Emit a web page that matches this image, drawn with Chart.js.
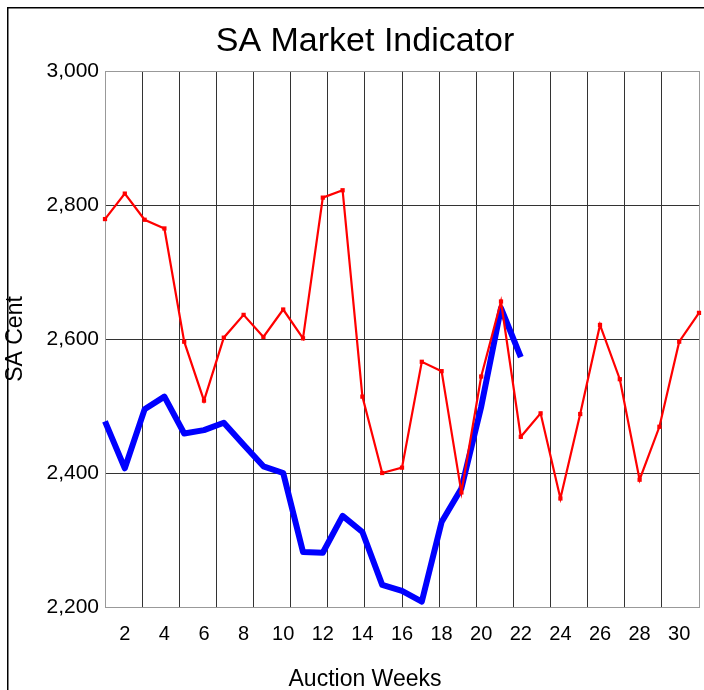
<!DOCTYPE html>
<html><head><meta charset="utf-8">
<script src="https://cdn.jsdelivr.net/npm/chart.js@4"></script>
<style>
html,body{margin:0;padding:0;background:#fff;}
#wrap{position:relative;width:704px;height:690px;overflow:hidden;background:#fff;}
canvas{display:block;}
</style></head><body>
<div id="wrap"><canvas id="c" width="730" height="693" style="width:730px;height:693px"></canvas></div>
<script>
const weeks = ['1','2','3','4','5','6','7','8','9','10','11','12','13','14','15','16','17','18','19','20','21','22','23','24','25','26','27','28','29','30','31'];
const seriesRed = [2779, 2817, 2778, 2765, 2596, 2508, 2602, 2636, 2603, 2644, 2601, 2811, 2822, 2514, 2400, 2408, 2566, 2552, 2371, 2544, 2656, 2454, 2489, 2362, 2488, 2621, 2540, 2390, 2469, 2596, 2639];
const seriesBlue = [2477, 2407, 2495, 2514, 2459, 2464, 2475, 2442, 2410, 2400, 2282, 2281, 2336, 2312, 2233, 2224, 2208, 2327, 2377, 2499, 2646, 2573];
const yTicks = [2200, 2400, 2600, 2800, 3000];
const gridDivisions = [0,1,2,3,4,5,6,7,8,9,10,11,12,13,14,15,16];

const FONT = '"Liberation Sans", Arial, Helvetica, sans-serif';
Chart.defaults.font.family = FONT;
Chart.defaults.color = '#000';

const framePlugin = {
  id: 'frame',
  beforeDraw(chart) {
    const ctx = chart.ctx;
    ctx.save();
    ctx.fillStyle = '#fff';
    ctx.fillRect(0, 0, chart.width, chart.height);
    ctx.fillStyle = '#000';
    ctx.fillRect(7, 7, chart.width, 1.5);
    ctx.fillRect(7, 7, 1.5, chart.height);
    ctx.restore();
  }
};

new Chart(document.getElementById('c'), {
  type: 'line',
  data: {
    labels: weeks,
    datasets: [
      {
        label: 'Red',
        data: seriesRed,
        borderColor: '#ff0000',
        backgroundColor: '#ff0000',
        borderWidth: 2.2,
        pointStyle: 'rect',
        pointRadius: 3,
        pointBorderWidth: 0,
        pointBackgroundColor: '#ff0000',
        tension: 0,
        xAxisID: 'x', yAxisID: 'y'
      },
      {
        label: 'Blue',
        data: seriesBlue,
        borderColor: '#0000ff',
        backgroundColor: '#0000ff',
        borderWidth: 6,
        borderJoinStyle: 'round',
        pointRadius: 0,
        tension: 0,
        xAxisID: 'x', yAxisID: 'y'
      }
    ]
  },
  options: {
    responsive: false,
    animation: false,
    devicePixelRatio: 1,
    layout: { padding: 0 },
    plugins: {
      legend: { display: false },
      tooltip: { enabled: false },
      title: {
        display: true,
        text: 'SA Market Indicator',
        color: '#000',
        font: { family: FONT, size: 34, weight: 'normal' },
        padding: { top: 21, bottom: 9.2 }
      },
      subtitle: {
        display: true,
        position: 'bottom',
        text: 'Auction Weeks',
        color: '#000',
        font: { family: FONT, size: 23, weight: 'normal' },
        padding: { top: 0, bottom: 0 }
      }
    },
    scales: {
      x: {
        type: 'category',
        position: 'bottom',
        offset: false,
        grid: { display: false, drawTicks: false },
        border: { display: true, color: '#999' },
        ticks: {
          autoSkip: false, maxRotation: 0, minRotation: 0,
          padding: 15,
          color: '#000',
          font: { size: 20 },
          callback: function (v, i) { return (i % 2 === 1) ? weeks[i] : ''; }
        },
        afterFit: s => { s.height = 58.4; }
      },
      xg: {
        type: 'linear',
        position: 'top',
        min: gridDivisions[0],
        max: gridDivisions[gridDivisions.length - 1],
        afterBuildTicks: s => { s.ticks = gridDivisions.map(v => ({ value: v })); },
        ticks: { display: false },
        grid: {
          drawTicks: false,
          lineWidth: 1,
          color: c => (c.tick && (c.tick.value === 0 || c.tick.value === 16)) ? '#999' : '#333'
        },
        border: { display: false },
        afterFit: s => { s.height = 0; }
      },
      y: {
        type: 'linear',
        position: 'left',
        min: yTicks[0],
        max: yTicks[yTicks.length - 1],
        afterBuildTicks: s => { s.ticks = yTicks.map(v => ({ value: v })); },
        ticks: {
          padding: 6,
          color: '#000',
          font: { size: 21 },
          callback: v => v.toLocaleString('en-US')
        },
        grid: {
          drawTicks: false,
          lineWidth: 1,
          color: c => (c.tick && c.tick.value === 3000) ? '#999' : '#333'
        },
        border: { display: true, color: '#999' },
        title: {
          display: true,
          text: 'SA Cent',
          color: '#000',
          font: { size: 23 },
          padding: { top: 2.2, bottom: 0 }
        },
        afterFit: s => { s.width = 105; }
      },
      yr: {
        type: 'linear',
        position: 'right',
        min: 0, max: 1,
        ticks: { display: false },
        grid: { drawOnChartArea: false, drawTicks: false },
        border: { display: false },
        afterFit: s => { s.width = 31; }
      }
    }
  },
  plugins: [framePlugin]
});
</script>
</body></html>
